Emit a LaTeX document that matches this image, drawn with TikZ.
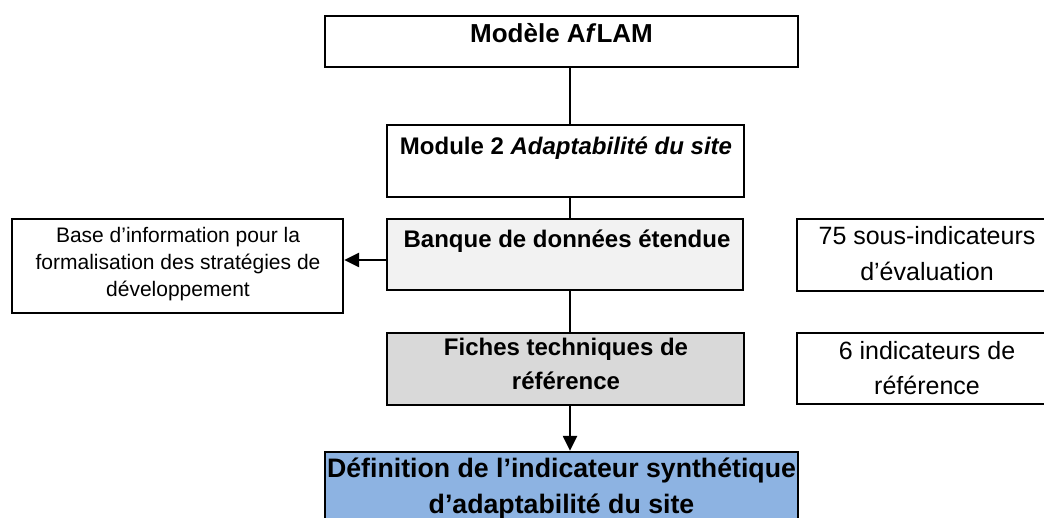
\documentclass[tikz,border=0pt]{standalone}
\usepackage{fontspec}
\setmainfont{Liberation Sans}
\usetikzlibrary{arrows.meta}
\definecolor{lightgr}{HTML}{F2F2F2}
\definecolor{midgr}{HTML}{D9D9D9}
\definecolor{skyb}{HTML}{8DB3E2}
\tikzset{
  boxframe/.style={draw=black, line width=2.3pt, rectangle, inner sep=0pt},
  conn/.style={draw=black, line width=2.3pt},
  arr/.style={conn, -{Triangle[width=14pt,length=15pt]}},
  txt/.style={anchor=base, inner sep=0pt},
  bigb/.style={txt, font=\fontsize{26}{30}\selectfont\bfseries},
  midb/.style={txt, font=\fontsize{24}{28}\selectfont\bfseries},
  defb/.style={txt, font=\fontsize{26.7}{30}\selectfont\bfseries},
  smallr/.style={txt, font=\fontsize{21}{25}\selectfont},
  rightr/.style={txt, font=\fontsize{25}{29}\selectfont},
}
\begin{document}
\begin{tikzpicture}[x=1pt,y=-1pt]
\clip (0,0) rectangle (1044,518);
\fill[white] (0,0) rectangle (1044,518);
% boxes
\node[boxframe, minimum width=473pt, minimum height=51pt] (m1) at (561.5,41.5) {};
\node[boxframe, minimum width=357pt, minimum height=72pt] (m2) at (565.5,161) {};
\node[boxframe, fill=lightgr, minimum width=356pt, minimum height=71pt] (m3) at (565,254.5) {};
\node[boxframe, fill=midgr, minimum width=357pt, minimum height=72pt] (m4) at (565.5,369) {};
\node[boxframe, fill=skyb, minimum width=473pt, minimum height=100pt] (m5) at (561.5,502) {};
\node[boxframe, minimum width=331pt, minimum height=94pt] (lb) at (177.5,266) {};
\node[boxframe, minimum width=260pt, minimum height=72pt] (r1) at (927,255) {};
\node[boxframe, minimum width=260pt, minimum height=71pt] (r2) at (927,368.5) {};
% texts
\node[bigb] (t1) at (561.5,43) {Modèle A\textit{f}LAM};
\node[midb] (t2) at (566,155) {Module 2 \textit{Adaptabilité du site}};
\node[midb] (t3) at (567,248) {Banque de données étendue};
\node[midb] (t4a) at (566,356) {Fiches techniques de};
\node[midb] (t4b) at (566,389) {référence};
\node[defb] (t5a) at (561.5,477) {Définition de l’indicateur synthétique};
\node[defb] (t5b) at (561.5,513) {d’adaptabilité du site};
\node[smallr] (tla) at (178,243) {Base d’information pour la};
\node[smallr] (tlb) at (178,270) {formalisation des stratégies de};
\node[smallr] (tlc) at (178,297) {développement};
\node[rightr] (tr1a) at (927,245) {75 sous-indicateurs};
\node[rightr] (tr1b) at (927,281) {d’évaluation};
\node[rightr] (tr2a) at (927,360) {6 indicateurs de};
\node[rightr] (tr2b) at (927,395) {référence};
% connectors
\coordinate (xl) at (570,0);
\coordinate (yl) at (0,260);
\draw[conn] (m1.south -| xl) -- (m2.north -| xl);
\draw[conn] (m2.south -| xl) -- (m3.north -| xl);
\draw[conn] (m3.south -| xl) -- (m4.north -| xl);
\draw[arr] (m4.south -| xl) -- (m5.north -| xl);
\draw[arr] (m3.west |- yl) -- (lb.east |- yl);
\end{tikzpicture}
\end{document}
